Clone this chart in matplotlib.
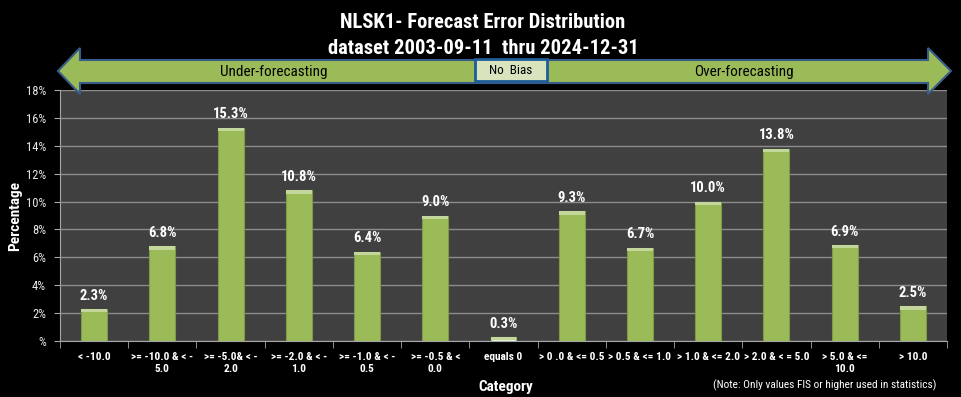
import matplotlib
matplotlib.use("Agg")
import matplotlib.pyplot as plt
from matplotlib import font_manager
from matplotlib.patches import Polygon, Rectangle
import numpy as np

categories = ["< -10.0", ">= -10.0 & < -\n5.0", ">= -5.0& < -\n2.0", ">= -2.0 & < -\n1.0",
              ">= -1.0 & < -\n0.5", ">= -0.5 & <\n0.0", "equals 0", "> 0 .0 & <= 0.5",
              "> 0.5 & <= 1.0", "> 1.0 & <= 2.0", "> 2.0 & < = 5.0", "> 5.0 & <=\n10.0", "> 10.0"]
percent = [2.3, 6.8, 15.3, 10.8, 6.4, 9.0, 0.3, 9.3, 6.7, 10.0, 13.8, 6.9, 2.5]
yticks = [0, 2, 4, 6, 8, 10, 12, 14, 16, 18]

# pick a narrow font (Calibri-like look) if one is installed
names = {f.name for f in font_manager.fontManager.ttflist}
stretches = {(f.name, f.stretch) for f in font_manager.fontManager.ttflist}
font = dict(family="Liberation Sans")
stretch_ok = False
for cand in ["Liberation Sans Narrow", "Roboto Condensed", "Open Sans Condensed", "DejaVu Sans Condensed"]:
    if cand in names:
        font = dict(family=cand)
        stretch_ok = True
        break
else:
    for nm, st in stretches:
        if nm in ("DejaVu Sans", "Open Sans", "Roboto") and str(st) in ("condensed", "semi-condensed", "75", "87"):
            font = dict(family=nm, fontstretch="condensed")
            stretch_ok = True
            break
k = 1.0 if stretch_ok else 0.88

W, H = 961, 397
fig = plt.figure(figsize=(W / 100, H / 100), dpi=100, facecolor="black")

def px(x, y):
    # pixel coords (top-left origin) -> figure fraction
    return (x / W, 1 - y / H)

ax = fig.add_axes([60 / W, 56 / H, 887 / W, 251 / H])
ax.set_facecolor("#404040")
x = np.arange(len(categories))
bw = 0.38
bars = ax.bar(x, percent, width=bw, color="#9bbb59", edgecolor="#7f9a48", linewidth=0.8, zorder=3)
bars[6].set_color("#ebf1de")
bars[6].set_edgecolor("#9bbb59")
# light bevel on top of each bar
bev = 0.25
ax.bar(x, [bev if v > bev else 0 for v in percent], bottom=[v - bev for v in percent],
       width=bw, color="#c3d69b", linewidth=0, zorder=3.5)
for xi, v in zip(x, percent):
    ax.text(xi, v + 0.45, f"{v:.1f}%", ha="center", va="bottom", color="white",
            fontsize=10.5 * k, fontweight="bold", zorder=4, **font)

ax.set_xlim(-0.5, len(categories) - 0.5)
ax.set_ylim(0, 18)
ax.set_yticks(yticks)
ax.set_yticklabels([f"{t}%" if t else "%" for t in yticks], color="#e8e8e8", fontsize=9 * k, **font)
ax.yaxis.grid(True, color="#8c8c8c", linewidth=1, zorder=0)
ax.set_xticks(x)
ax.set_xticklabels(categories, color="white", fontsize=8.2 * k, fontweight="bold",
                   linespacing=1.2, **font)
ax.set_xticks(np.arange(len(categories) + 1) - 0.5, minor=True)
ax.tick_params(axis="x", which="major", length=0, pad=8)
ax.tick_params(axis="x", which="minor", length=5, color="#a6a6a6")
ax.tick_params(axis="y", length=4, color="#a6a6a6", pad=6)
for s in ["top", "right"]:
    ax.spines[s].set_visible(False)
for s in ["left", "bottom"]:
    ax.spines[s].set_color("#a6a6a6")
ax.set_ylabel("Percentage", color="white", fontsize=11 * k, fontweight="bold", labelpad=3, **font)
ax.set_xlabel("Category", color="white", fontsize=11 * k, fontweight="bold", **font)
ax.xaxis.set_label_coords(0.503, -0.155)

# titles
tsize = 14.8 * k
fig.text(*px(483, 23), "NLSK1- Forecast Error Distribution", ha="center", va="center",
         color="white", fontsize=tsize, fontweight="bold", **font)
fig.text(*px(483, 48), "dataset 2003-09-11  thru 2024-12-31", ha="center", va="center",
         color="white", fontsize=tsize, fontweight="bold", **font)

# double arrow banner
arrow = [(58, 71), (80, 48), (80, 60), (928, 60), (928, 48), (951, 71),
         (928, 94), (928, 83), (80, 83), (80, 94)]
fig.patches.append(Polygon([px(a, b) for a, b in arrow], closed=True, transform=fig.transFigure,
                           facecolor="#9bbb59", edgecolor="#385d8a", linewidth=1.5, zorder=5))
bx0, by0 = px(475, 81)
bx1, by1 = px(547, 59)
fig.patches.append(Rectangle((bx0, by0), bx1 - bx0, by1 - by0, transform=fig.transFigure,
                             facecolor="#d7e4bd", edgecolor="#1f5c99", linewidth=2, zorder=6))
fig.text(*px(511, 71), "No  Bias", ha="center", va="center", color="black", fontsize=9.5 * k,
         zorder=7, **font)
fig.text(*px(274, 72), "Under-forecasting", ha="center", va="center", color="black",
         fontsize=11 * k, zorder=7, **font)
fig.text(*px(744, 72), "Over-forecasting", ha="center", va="center", color="black",
         fontsize=11 * k, zorder=7, **font)

fig.text(*px(825, 385), "(Note: Only values FIS or higher used in statistics)", ha="center",
         va="center", color="white", fontsize=8.2 * k, **font)

fig.savefig("out.png", dpi=100, facecolor="black")
